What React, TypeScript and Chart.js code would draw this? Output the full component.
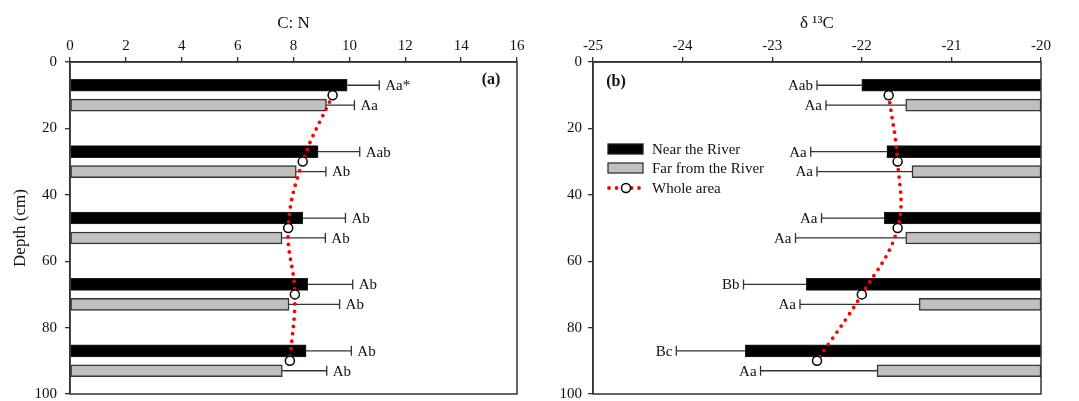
import React, { useEffect, useRef } from 'react';
import { Chart, registerables } from 'chart.js';

Chart.register(...registerables);

// ---- Data ----
const depthNear = [7, 27, 47, 67, 87];
const depthFar = [13, 33, 53, 73, 93];
const depthWhole = [10, 30, 50, 70, 90];

const cnNear = [9.92, 8.88, 8.33, 8.51, 8.45];
const cnNearErr = [11.07, 10.37, 9.86, 10.12, 10.07];
const cnFar = [9.18, 8.1, 7.59, 7.84, 7.6];
const cnFarErr = [10.18, 9.16, 9.14, 9.65, 9.19];
const cnWhole = [9.4, 8.33, 7.81, 8.05, 7.87];
const cnNearLetters = ['Aa*', 'Aab', 'Ab', 'Ab', 'Ab'];
const cnFarLetters = ['Aa', 'Ab', 'Ab', 'Ab', 'Ab'];

const dcNear = [-22.0, -21.72, -21.75, -22.62, -23.3];
const dcNearErr = [-22.5, -22.57, -22.45, -23.32, -24.07];
const dcFar = [-21.51, -21.44, -21.51, -21.36, -21.83];
const dcFarErr = [-22.4, -22.5, -22.74, -22.69, -23.13];
const dcWhole = [-21.7, -21.6, -21.6, -22.0, -22.5];
const dcNearLetters = ['Aab', 'Aa', 'Aa', 'Bb', 'Bc'];
const dcFarLetters = ['Aa', 'Aa', 'Aa', 'Aa', 'Aa'];

const legendLabels = ['Near the River', 'Far from the River', 'Whole area'];

const FONT = '"Liberation Serif", "Times New Roman", serif';
const TXT = '#111';
const LINE = '#333';

type Spec = {
  near: number[]; nearErr: number[]; far: number[]; farErr: number[]; whole: number[];
  nearLetters: string[]; farLetters: string[];
  xMin: number; xMax: number; step: number; title: string;
  side: 'left' | 'right';
  yWidth: number; padRight: number; yTickPad: number;
  tag: string; tagX: number; tagY: number;
  yTitle: boolean; legend: boolean;
};

function makePlugin(s: Spec) {
  return {
    id: 'custom_' + s.side,
    beforeDatasetsDraw(chart: any) {
      const { ctx } = chart;
      const xs = chart.scales.x, ys = chart.scales.y;
      ctx.save();
      ctx.strokeStyle = LINE;
      ctx.lineWidth = 1.3;
      const groups = [
        { d: depthNear, v: s.near, e: s.nearErr },
        { d: depthFar, v: s.far, e: s.farErr },
      ];
      for (const g of groups) {
        g.d.forEach((d, i) => {
          const y = ys.getPixelForValue(d);
          const x0 = xs.getPixelForValue(g.v[i]);
          const x1 = xs.getPixelForValue(g.e[i]);
          ctx.beginPath();
          ctx.moveTo(x0, y);
          ctx.lineTo(x1, y);
          ctx.moveTo(x1, y - 5);
          ctx.lineTo(x1, y + 5);
          ctx.stroke();
        });
      }
      ctx.restore();
    },
    afterDatasetsDraw(chart: any) {
      const { ctx, chartArea } = chart;
      const xs = chart.scales.x, ys = chart.scales.y;
      ctx.save();
      // frame
      ctx.strokeStyle = LINE;
      ctx.lineWidth = 1.5;
      ctx.strokeRect(chartArea.left, chartArea.top, chartArea.right - chartArea.left, chartArea.bottom - chartArea.top);
      // letters
      ctx.fillStyle = TXT;
      ctx.font = `15px ${FONT}`;
      ctx.textBaseline = 'middle';
      const groups = [
        { d: depthNear, e: s.nearErr, l: s.nearLetters },
        { d: depthFar, e: s.farErr, l: s.farLetters },
      ];
      for (const g of groups) {
        g.d.forEach((d, i) => {
          const y = ys.getPixelForValue(d);
          const x1 = xs.getPixelForValue(g.e[i]);
          if (s.side === 'left') {
            ctx.textAlign = 'left';
            ctx.fillText(g.l[i], x1 + 6, y + 1);
          } else {
            ctx.textAlign = 'right';
            ctx.fillText(g.l[i], x1 - 4, y + 1);
          }
        });
      }
      // panel tag
      ctx.font = `bold 16px ${FONT}`;
      ctx.textAlign = 'center';
      ctx.fillText(s.tag, chartArea.left + s.tagX, chartArea.top + s.tagY);
      // legend
      if (s.legend) {
        const lx = chartArea.left + 15;
        const ly = chartArea.top + 87;
        ctx.lineWidth = 1.3;
        ctx.fillStyle = '#000';
        ctx.fillRect(lx, ly - 5, 35, 10);
        ctx.strokeStyle = '#222';
        ctx.strokeRect(lx, ly - 5, 35, 10);
        ctx.fillStyle = '#c0c0c0';
        ctx.fillRect(lx, ly + 14, 35, 10);
        ctx.strokeStyle = LINE;
        ctx.strokeRect(lx, ly + 14, 35, 10);
        const wy = ly + 39;
        ctx.save();
        ctx.strokeStyle = '#ff0000';
        ctx.lineWidth = 3.8;
        ctx.lineCap = 'round';
        ctx.setLineDash([0, 7.5]);
        ctx.beginPath();
        ctx.moveTo(lx + 1, wy);
        ctx.lineTo(lx + 35, wy);
        ctx.stroke();
        ctx.restore();
        ctx.beginPath();
        ctx.arc(lx + 18, wy, 4.5, 0, Math.PI * 2);
        ctx.fillStyle = '#fff';
        ctx.fill();
        ctx.lineWidth = 1.5;
        ctx.strokeStyle = '#000';
        ctx.stroke();
        ctx.fillStyle = TXT;
        ctx.font = `15px ${FONT}`;
        ctx.textAlign = 'left';
        ctx.fillText(legendLabels[0], lx + 44, ly + 1);
        ctx.fillText(legendLabels[1], lx + 44, ly + 20);
        ctx.fillText(legendLabels[2], lx + 44, wy + 1);
      }
      ctx.restore();
    },
  };
}

function makeConfig(s: Spec): any {
  const base = s.side === 'right' ? s.xMax : null;
  const barVal = (v: number) => (base === null ? v : [base, v]);
  const gridCommon = {
    drawOnChartArea: false,
    drawTicks: true,
    tickLength: 5,
    color: LINE,
    lineWidth: 1.3,
    offset: false,
  };
  return {
    type: 'bar',
    data: {
      datasets: [
        {
          type: 'line',
          label: legendLabels[2],
          data: depthWhole.map((d, i) => ({ x: s.whole[i], y: d })),
          indexAxis: 'y',
          borderColor: '#ff0000',
          borderWidth: 3.8,
          borderDash: [0, 7.5],
          borderCapStyle: 'round',
          tension: 0.4,
          fill: false,
          pointRadius: 4.5,
          pointBackgroundColor: '#fff',
          pointBorderColor: '#000',
          pointBorderWidth: 1.5,
          order: 0,
        },
        {
          label: legendLabels[0],
          data: depthNear.map((d, i) => ({ x: barVal(s.near[i]), y: d })),
          backgroundColor: '#000',
          borderColor: '#222',
          borderWidth: 1,
          borderSkipped: false,
          barThickness: 12,
          grouped: false,
          order: 1,
        },
        {
          label: legendLabels[1],
          data: depthFar.map((d, i) => ({ x: barVal(s.far[i]), y: d })),
          backgroundColor: '#c0c0c0',
          borderColor: LINE,
          borderWidth: 1.5,
          borderSkipped: false,
          barThickness: 12,
          grouped: false,
          order: 2,
        },
      ],
    },
    options: {
      indexAxis: 'y',
      responsive: false,
      animation: false,
      layout: { padding: { left: 0, top: 0, right: s.padRight, bottom: 7 } },
      plugins: { legend: { display: false }, tooltip: { enabled: false } },
      scales: {
        x: {
          type: 'linear',
          position: 'top',
          min: s.xMin,
          max: s.xMax,
          ticks: { stepSize: s.step, padding: 2, color: TXT, font: { family: FONT, size: 15 } },
          grid: gridCommon,
          border: { display: true, color: LINE, width: 1.5 },
          title: {
            display: true,
            text: s.title,
            color: TXT,
            font: { family: FONT, size: 17 },
            padding: { top: 13, bottom: 0 },
          },
          afterFit: (sc: any) => {
            sc.height = 62;
            sc.paddingLeft = 0;
            sc.paddingRight = 0;
          },
        },
        y: {
          type: 'linear',
          reverse: true,
          min: 0,
          max: 100,
          offset: false,
          ticks: { stepSize: 20, padding: s.yTickPad, color: TXT, font: { family: FONT, size: 15 } },
          grid: gridCommon,
          border: { display: true, color: LINE, width: 1.5 },
          title: {
            display: s.yTitle,
            text: 'Depth (cm)',
            color: TXT,
            font: { family: FONT, size: 17 },
            padding: { top: 10, bottom: 0 },
          },
          afterFit: (sc: any) => {
            sc.width = s.yWidth;
            sc.paddingTop = 0;
            sc.paddingBottom = 0;
          },
        },
      },
    },
    plugins: [makePlugin(s)],
  };
}

const leftSpec: Spec = {
  near: cnNear, nearErr: cnNearErr, far: cnFar, farErr: cnFarErr, whole: cnWhole,
  nearLetters: cnNearLetters, farLetters: cnFarLetters,
  xMin: 0, xMax: 16, step: 2, title: 'C: N', side: 'left',
  yWidth: 70, padRight: 23, yTickPad: 8,
  tag: '(a)', tagX: 421, tagY: 18, yTitle: true, legend: false,
};

const rightSpec: Spec = {
  near: dcNear, nearErr: dcNearErr, far: dcFar, farErr: dcFarErr, whole: dcWhole,
  nearLetters: dcNearLetters, farLetters: dcFarLetters,
  xMin: -25, xMax: -20, step: 1, title: 'δ ¹³C', side: 'right',
  yWidth: 53, padRight: 38, yTickPad: 6,
  tag: '(b)', tagX: 23, tagY: 20, yTitle: false, legend: true,
};

export default function App() {
  const leftRef = useRef<HTMLCanvasElement>(null);
  const rightRef = useRef<HTMLCanvasElement>(null);
  useEffect(() => {
    const a = new Chart(leftRef.current as HTMLCanvasElement, makeConfig(leftSpec));
    const b = new Chart(rightRef.current as HTMLCanvasElement, makeConfig(rightSpec));
    return () => {
      a.destroy();
      b.destroy();
    };
  }, []);
  return (
    <div style={{ position: 'absolute', left: 0, top: 0, width: 1079, height: 401, background: '#fff' }}>
      <canvas ref={leftRef} width={540} height={401} style={{ position: 'absolute', left: 0, top: 0 }} />
      <canvas ref={rightRef} width={539} height={401} style={{ position: 'absolute', left: 540, top: 0 }} />
    </div>
  );
}
